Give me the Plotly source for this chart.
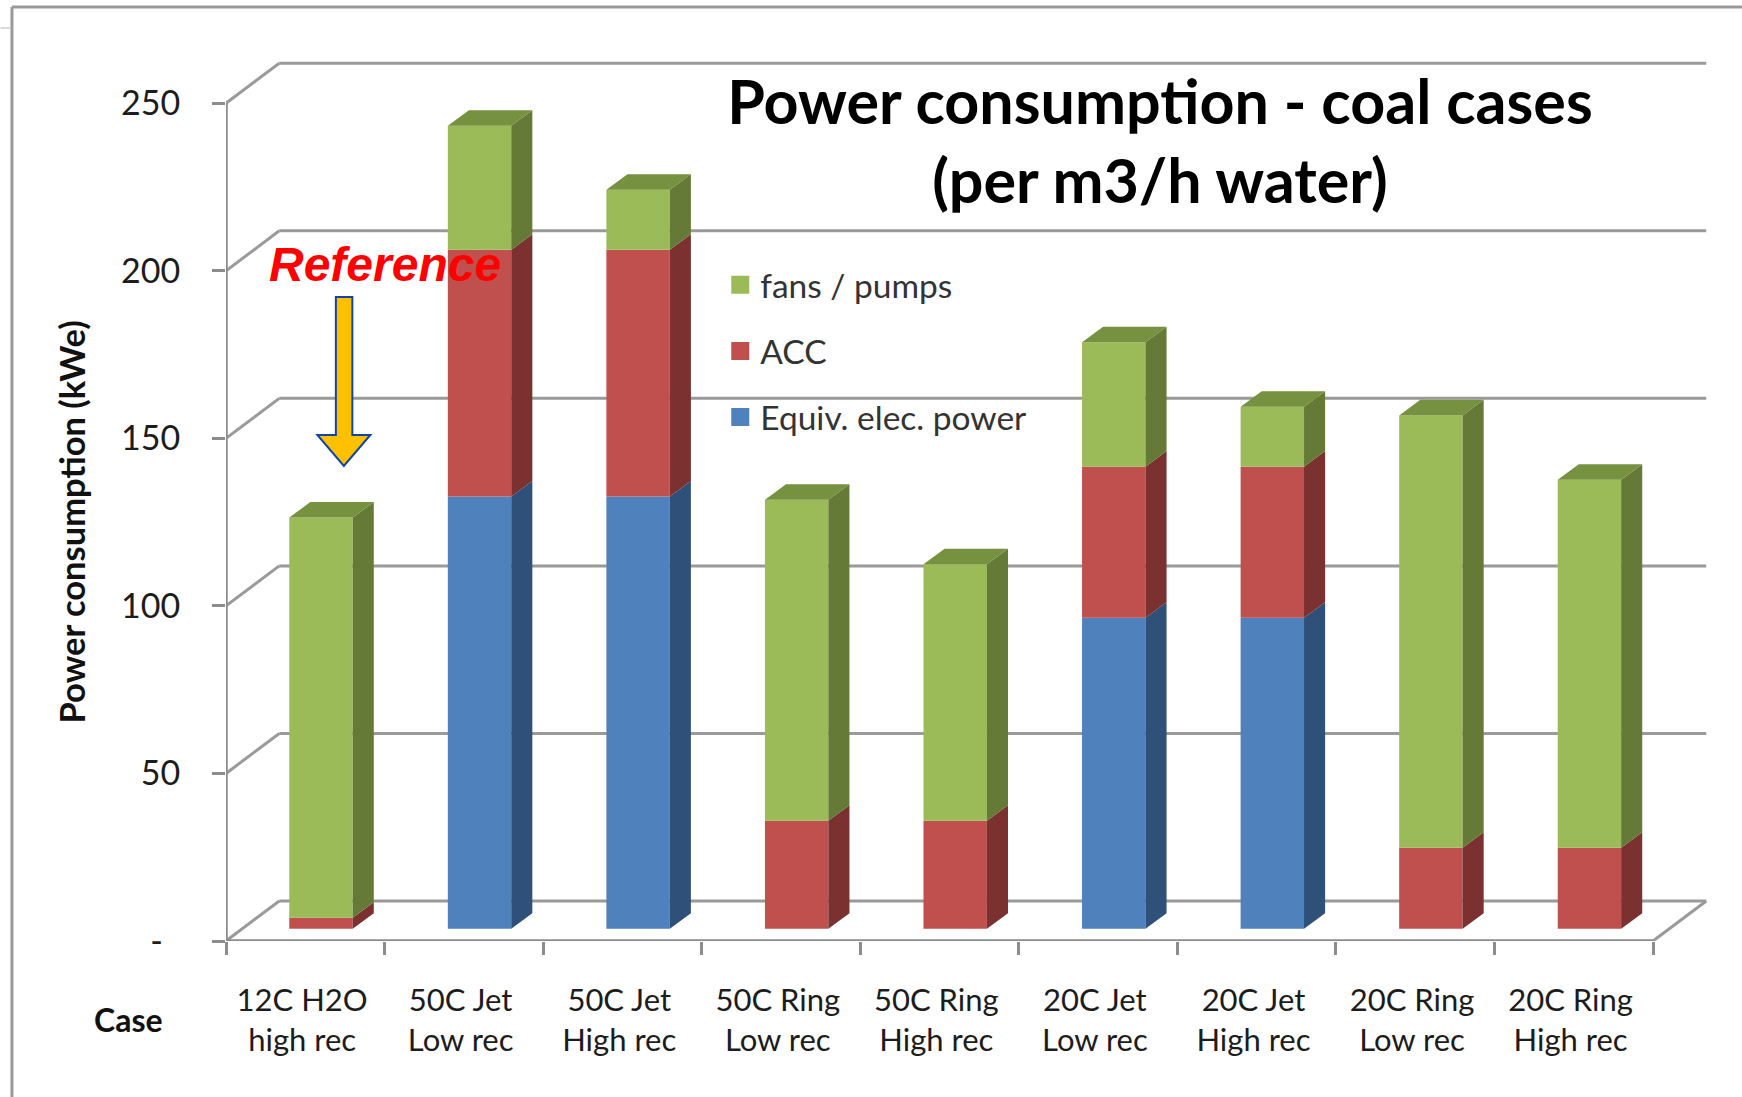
import plotly.graph_objects as go

categories = ["12C H2O<br>high rec", "50C Jet<br>Low rec", "50C Jet<br>High rec",
              "50C Ring<br>Low rec", "50C Ring<br>High rec", "20C Jet<br>Low rec",
              "20C Jet<br>High rec", "20C Ring<br>Low rec", "20C Ring<br>High rec"]
equiv_power = [0, 129, 129, 0, 0, 92.8, 92.8, 0, 0]
acc = [3.3, 73.6, 73.6, 32.2, 32.2, 45.1, 45.1, 24.2, 24.2]
fans_pumps = [119.4, 37.0, 17.9, 95.8, 76.6, 37.1, 17.9, 129.0, 109.8]
y_ticks = [0, 50, 100, 150, 200, 250]
y_labels = ["-\u00a0\u00a0", "50", "100", "150", "200", "250"]

W, H = 1742, 1097
L, R, T, B = 225.6, 1714.0, 60.0, 941.0
FONT = "Lato"
INK = "#1c1c1c"
GRID = "#9a9a9a"

# 3D-look geometry, in axis units
FLOOR = 3.65          # bars stand this far above the front of the floor
BAR_OFFSET, BAR_W = -0.101, 0.40
BAR_DX, BAR_DY = 0.133, 4.64
WALL_DX, WALL_DY = 0.336, 11.94
X0, X1 = -0.5, 8.5
YMAX = (B - T) / 3.351
XMAX = X0 + (R - L) / 158.6

series = [
    ("Equiv. elec. power", equiv_power, "#4F81BD", "#2F5079", None),
    ("ACC", acc, "#C0504D", "#7A3130", None),
    ("fans / pumps", fans_pumps, "#9BBB59", "#667A37", "#76913F"),
]
positions = list(range(len(categories)))

def px(x):
    return (x - L) / (R - L)

def py(y):
    return (B - y) / (B - T)

fig = go.Figure()
cum = [FLOOR] * len(categories)
for name, vals, col, side, top in series:
    fig.add_trace(go.Bar(x=positions, y=vals, base=list(cum), name=name, width=BAR_W,
                         offset=BAR_OFFSET, marker=dict(color=col, line=dict(width=0)),
                         showlegend=False))
    sx, sy = [], []
    for i, v in enumerate(vals):
        if v <= 0:
            continue
        xr = i + BAR_OFFSET + BAR_W
        sx += [xr, xr + BAR_DX, xr + BAR_DX, xr, xr, None]
        sy += [cum[i], cum[i] + BAR_DY, cum[i] + v + BAR_DY, cum[i] + v, cum[i], None]
    fig.add_trace(go.Scatter(x=sx, y=sy, mode="lines", fill="toself", fillcolor=side,
                             line=dict(width=0, color=side), hoverinfo="skip", showlegend=False))
    cum = [c + v for c, v in zip(cum, vals)]
    if top:
        tx, ty = [], []
        for i, c in enumerate(cum):
            xl = i + BAR_OFFSET
            tx += [xl, xl + BAR_DX, xl + BAR_W + BAR_DX, xl + BAR_W, xl, None]
            ty += [c, c + BAR_DY, c + BAR_DY, c, c, None]
        fig.add_trace(go.Scatter(x=tx, y=ty, mode="lines", fill="toself", fillcolor=top,
                                 line=dict(width=0, color=top), hoverinfo="skip", showlegend=False))

# legend entries: fans first, as in the reference
for name, vals, col, side, top in reversed(series):
    fig.add_trace(go.Scatter(x=[None], y=[None], mode="markers", name=name, legendgroup=name,
                             marker=dict(symbol="square", size=16, color=col,
                                         line=dict(width=2, color=col))))

shapes = []
line = dict(color=GRID, width=3)
for y in y_ticks:
    shapes.append(dict(type="line", xref="x", yref="y", layer="below", x0=X0, y0=y,
                       x1=X0 + WALL_DX, y1=y + WALL_DY, line=line))
    shapes.append(dict(type="line", xref="x", yref="y", layer="below", x0=X0 + WALL_DX, y0=y + WALL_DY,
                       x1=X1 + WALL_DX, y1=y + WALL_DY, line=line))
axis_line = dict(color="#8c8c8c", width=3.5)
shapes += [
    dict(type="line", xref="x", yref="y", layer="below", x0=X0, y0=0, x1=X0, y1=y_ticks[-1], line=axis_line),
    dict(type="line", xref="x", yref="y", layer="below", x0=X0, y0=0, x1=X1, y1=0, line=axis_line),
    dict(type="line", xref="x", yref="y", layer="below", x0=X1, y0=0, x1=X1 + WALL_DX, y1=WALL_DY, line=line),
]
# outer frame of the slide picture
frame = dict(color="#999999", width=3)
shapes += [
    dict(type="line", xref="paper", yref="paper", x0=px(11.5), y0=py(1097), x1=px(11.5), y1=py(7), line=frame),
    dict(type="line", xref="paper", yref="paper", x0=px(11.5), y0=py(7), x1=px(1742), y1=py(7), line=frame),
    dict(type="line", xref="paper", yref="paper", x0=px(0), y0=py(28), x1=px(11.5), y1=py(28),
         line=dict(color="#b5b5b5", width=1)),
]
# the "Reference" arrow
arrow = [(335.5, 297), (352, 297), (352, 435), (370, 435), (343.5, 466), (317, 435), (335.5, 435)]
path = "M" + " L".join(f"{px(a):.5f},{py(b):.5f}" for a, b in arrow) + " Z"
shapes.append(dict(type="path", xref="paper", yref="paper", path=path, fillcolor="#FFC000",
                   line=dict(color="#0F45A8", width=2)))

annotations = [
    dict(text="Reference", xref="paper", yref="paper", x=px(385), y=py(264), showarrow=False,
         xanchor="center", yanchor="middle",
         font=dict(family="Liberation Sans", size=48, color="#FF0000", weight="bold", style="italic")),
    dict(text="Power consumption (kWe)", xref="paper", yref="paper", x=px(71), y=py(522), textangle=-90,
         showarrow=False, xanchor="center", yanchor="middle",
         font=dict(family=FONT, size=34.5, color="#111111", weight="bold")),
    dict(text="Case", xref="paper", yref="paper", x=px(128), y=py(1019), showarrow=False,
         xanchor="center", yanchor="middle",
         font=dict(family=FONT, size=32, color="#111111", weight="bold")),
]

fig.update_layout(
    width=W, height=H, autosize=False,
    margin=dict(l=L, r=W - R, t=T, b=H - B, pad=0),
    paper_bgcolor="white", plot_bgcolor="white",
    barmode="overlay", shapes=shapes, annotations=annotations,
    title=dict(text="Power consumption - coal cases<br>(per m3/h water)", xref="container", yref="container",
               x=1160 / W, y=1 - 124 / H, xanchor="center", yanchor="middle",
               font=dict(family=FONT, size=61, color="#000000", weight="bold")),
    legend=dict(x=px(720), y=py(256.5), xanchor="left", yanchor="top", traceorder="grouped",
                bgcolor="rgba(0,0,0,0)", tracegroupgap=19.6,
                font=dict(family=FONT, size=33.5, color="#333333")),
    font=dict(family=FONT, color=INK),
    xaxis=dict(range=[X0, XMAX], tickmode="array", tickvals=[p - 0.02 for p in positions], ticktext=categories,
               ticks="", showgrid=False, showline=False, zeroline=False,
               minor=dict(tickmode="array", tickvals=[p - 0.5 for p in positions] + [X1],
                          ticks="outside", ticklen=13, tickwidth=3, tickcolor="#8c8c8c", showgrid=False),
               tickfont=dict(family=FONT, size=31, color=INK), ticklabelstandoff=38),
    yaxis=dict(range=[0, YMAX], tickmode="array", tickvals=y_ticks, ticktext=y_labels,
               ticks="outside", ticklen=13, tickwidth=3, tickcolor="#8c8c8c",
               showgrid=False, showline=False, zeroline=False, ticklabelstandoff=25,
               tickfont=dict(family=FONT, size=34, color=INK)),
)
fig.write_html("out.html", post_script="document.body.style.margin='0';",
               config=dict(displayModeBar=False))
